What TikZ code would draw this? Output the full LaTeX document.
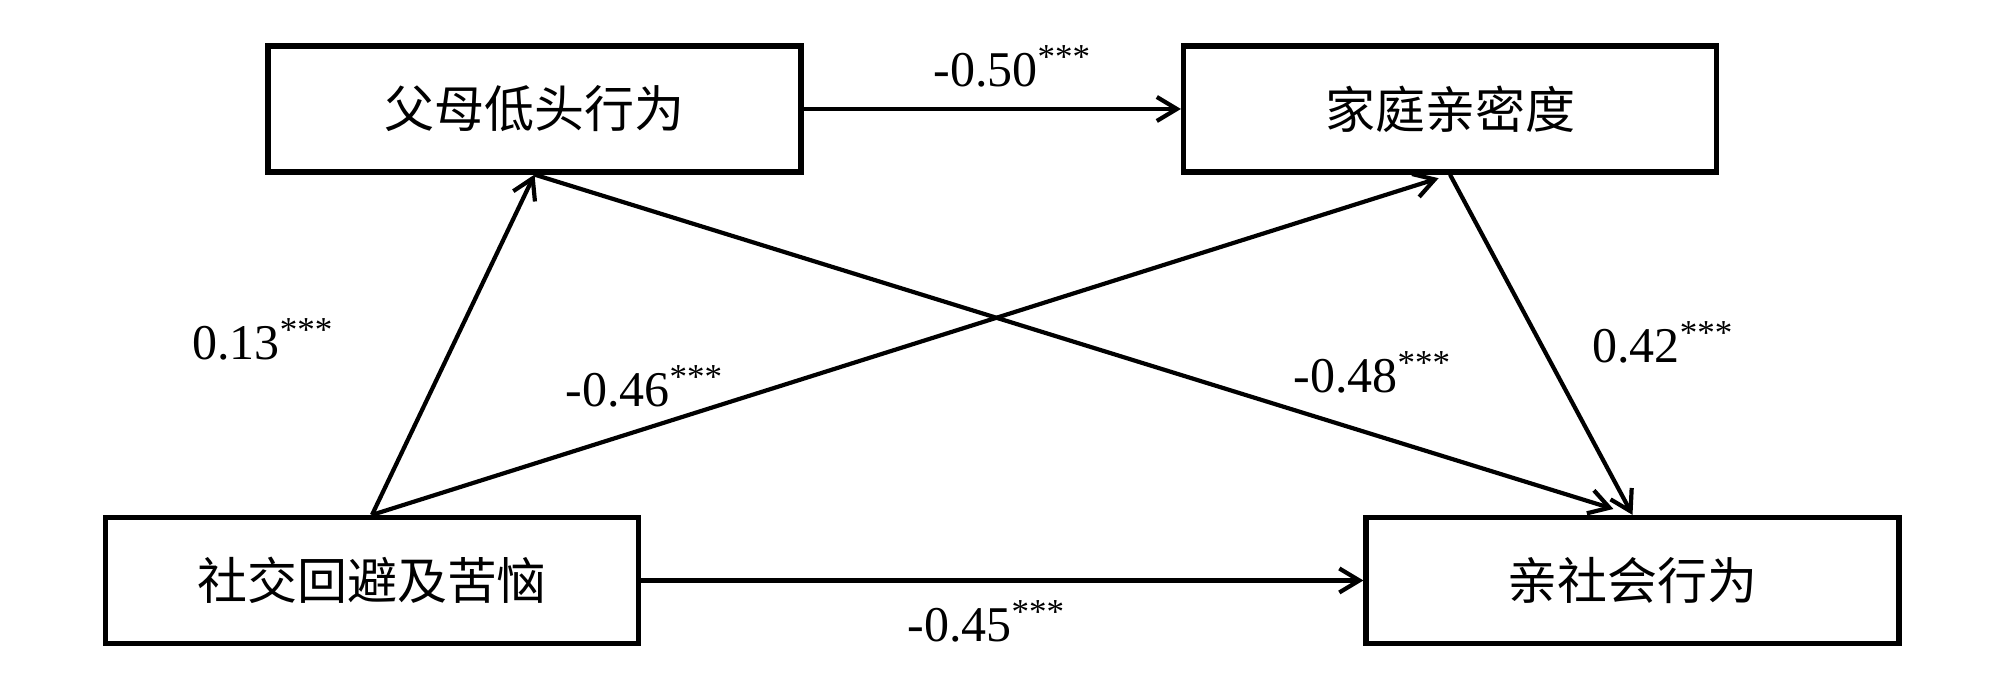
\documentclass[tikz,border=0pt]{standalone}
\usepackage{fontspec}
\setmainfont{Liberation Serif}
\newfontfamily\cjk{Noto Sans CJK SC}
\usetikzlibrary{arrows.meta}
\begin{document}
\begin{tikzpicture}[x=0.5pt,y=-0.5pt,
  varbox/.style={draw, line width=2.6pt, inner sep=0pt, minimum width=266.5pt, minimum height=63pt,
    font=\cjk\fontsize{25pt}{30pt}\selectfont},
  arr/.style={draw, line width=2.1pt, -{Straight Barb[length=10pt,width=12pt]}},
  coef/.style={anchor=base west, inner sep=0pt, font=\fontsize{25pt}{30pt}\selectfont}]
\useasboundingbox (0,0) rectangle (1999,683);
\fill[white] (0,0) rectangle (1999,683);
\node[varbox] (pp) at (534.5,109) {父母低头行为};
\node[varbox] (fc) at (1450,109) {家庭亲密度};
\node[varbox] (sa) at (372,580.5) {社交回避及苦恼};
\node[varbox] (pb) at (1632.5,580.5) {亲社会行为};
\draw[arr] (pp.east) -- (fc.west);
\draw[arr] (sa.east) -- (pb.west);
\draw[arr] (sa.north) -- (pp.south);
\draw[arr, shorten >=6pt] (sa.north) -- (fc.south);
\draw[arr, shorten >=10pt] (pp.south) -- (pb.north);
\draw[arr] (fc.south) -- (pb.north);
\node[coef] (c1) at (933,87) {-0.50\textsuperscript{***}};
\node[coef] (c2) at (192,360) {0.13\textsuperscript{***}};
\node[coef] (c3) at (565,407) {-0.46\textsuperscript{***}};
\node[coef] (c4) at (1293,393) {-0.48\textsuperscript{***}};
\node[coef] (c5) at (1592,363) {0.42\textsuperscript{***}};
\node[coef] (c6) at (907,642) {-0.45\textsuperscript{***}};
\end{tikzpicture}
\end{document}
